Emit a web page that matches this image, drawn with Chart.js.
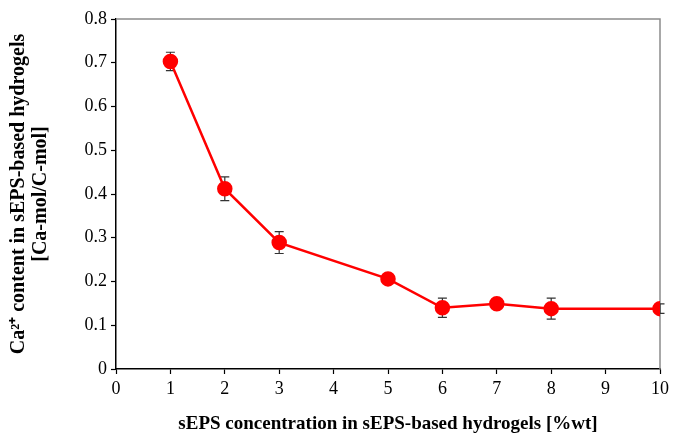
<!DOCTYPE html>
<html>
<head>
<meta charset="utf-8">
<script src="https://cdn.jsdelivr.net/npm/chart.js@4/dist/chart.umd.min.js"></script>
<style>
  html, body { margin: 0; padding: 0; background: #fff; }
  #wrap { width: 673px; height: 434px; }
</style>
</head>
<body>
<div id="wrap"><canvas id="chart" width="673" height="434"></canvas></div>
<script>
const concentrations = [1, 2, 3, 5, 6, 7, 8, 10];
const caContent = [0.703, 0.412, 0.289, 0.206, 0.140, 0.149, 0.138, 0.138];
const caError = [0.021, 0.027, 0.025, 0.008, 0.022, 0.006, 0.024, 0.011];
const xTicks = [0, 1, 2, 3, 4, 5, 6, 7, 8, 9, 10];
const yTicks = [0, 0.1, 0.2, 0.3, 0.4, 0.5, 0.6, 0.7, 0.8];

const serif = '"Liberation Serif", "Times New Roman", serif';

// frame + error bars, drawn from the scales
const extras = {
  id: 'extras',
  beforeDatasetsDraw(chart) {
    const { ctx, chartArea: a, scales: { x, y } } = chart;
    ctx.save();
    ctx.strokeStyle = '#8c8c8c';
    ctx.lineWidth = 1.5;
    ctx.beginPath();
    ctx.moveTo(a.left, a.top);
    ctx.lineTo(a.right, a.top);
    ctx.lineTo(a.right, a.bottom);
    ctx.stroke();

    ctx.strokeStyle = '#333';
    ctx.lineWidth = 1.2;
    concentrations.forEach((c, i) => {
      const px = x.getPixelForValue(c);
      const hi = y.getPixelForValue(caContent[i] + caError[i]);
      const lo = y.getPixelForValue(caContent[i] - caError[i]);
      ctx.beginPath();
      ctx.moveTo(px, hi); ctx.lineTo(px, lo);
      ctx.moveTo(px - 4.5, hi); ctx.lineTo(px + 4.5, hi);
      ctx.moveTo(px - 4.5, lo); ctx.lineTo(px + 4.5, lo);
      ctx.stroke();
    });
    ctx.restore();
  }
};

new Chart(document.getElementById('chart'), {
  type: 'line',
  data: {
    datasets: [{
      data: concentrations.map((c, i) => ({ x: c, y: caContent[i] })),
      borderColor: '#ff0000',
      backgroundColor: '#ff0000',
      borderWidth: 2.5,
      pointRadius: 6.5,
      pointHoverRadius: 6.5,
      tension: 0
    }]
  },
  options: {
    responsive: false,
    animation: false,
    events: [],
    layout: { padding: { left: 0, top: 19, right: 12, bottom: 0 } },
    plugins: { legend: { display: false }, tooltip: { enabled: false } },
    scales: {
      x: {
        type: 'linear',
        min: 0, max: 10,
        afterBuildTicks: (s) => { s.ticks = xTicks.map(v => ({ value: v })); },
        afterFit: (s) => { s.height = 65; },
        grid: { drawOnChartArea: false, color: '#000', tickLength: 5, tickWidth: 1.2 },
        border: { color: '#000', width: 1.5 },
        ticks: { color: '#000', font: { family: serif, size: 18 }, padding: 4 },
        title: {
          display: true,
          text: 'sEPS concentration in sEPS-based hydrogels [%wt]',
          color: '#000',
          font: { family: serif, size: 19, weight: 'bold', lineHeight: 1.0 },
          padding: { top: 18, bottom: 0 }
        }
      },
      y: {
        type: 'linear',
        min: 0, max: 0.8,
        afterBuildTicks: (s) => { s.ticks = yTicks.map(v => ({ value: v })); },
        afterFit: (s) => { s.width = 116; },
        grid: { drawOnChartArea: false, color: '#000', tickLength: 5, tickWidth: 1.2 },
        border: { color: '#000', width: 1.5 },
        ticks: {
          color: '#000', font: { family: serif, size: 18 }, padding: 4,
          callback: (v) => String(Math.round(v * 10) / 10)
        },
        title: {
          display: true,
          text: ['Ca²⁺ content in sEPS-based hydrogels', '[Ca-mol/C-mol]'],
          color: '#000',
          font: { family: serif, size: 20, weight: 'bold', lineHeight: 1.1 },
          padding: { top: 8, bottom: 0 }
        }
      }
    }
  },
  plugins: [extras]
});
</script>
</body>
</html>
